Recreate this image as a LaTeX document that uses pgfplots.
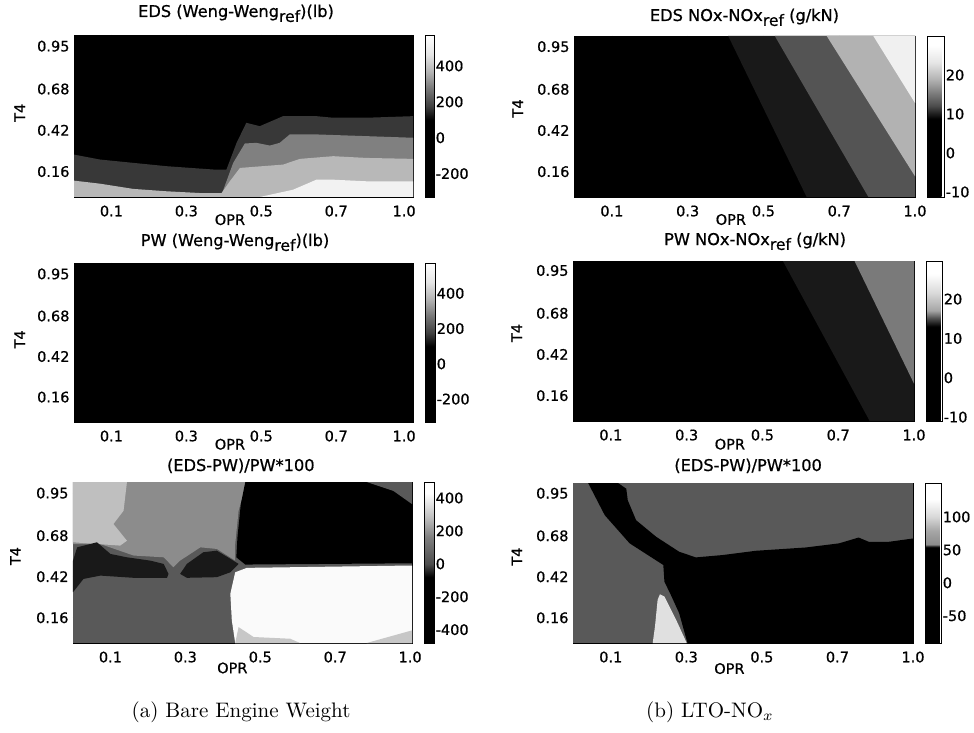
\documentclass[border=0pt]{standalone}
\usepackage{fontspec}
\usepackage{pgfplots}
\pgfplotsset{compat=1.18}
\newfontfamily\djv{DejaVu Sans}
\newfontfamily\djb[FakeBold=0.7]{DejaVu Sans}
\newcommand{\tfnt}{\djb\fontsize{16.2}{17}\selectfont}
\newcommand{\lfnt}{\djb\fontsize{14.5}{15}\selectfont}
\newcommand{\reff}{\raisebox{-0.55ex}{\fontsize{15.6}{16}\selectfont ref}}
\pgfplotsset{
 colormap={cA}{gray(0pt)=(0); gray(476pt)=(0); gray(560pt)=(0.25); gray(660pt)=(0.45); gray(770pt)=(0.7); gray(880pt)=(0.9); gray(1000pt)=(1)},
 colormap={cB}{gray(0pt)=(0); gray(410pt)=(0); gray(490pt)=(0.3); gray(660pt)=(0.5); gray(780pt)=(0.75); gray(930pt)=(1); gray(1000pt)=(1)},
 colormap={cC}{gray(0pt)=(0); gray(485pt)=(0); gray(567pt)=(0.3); gray(650pt)=(0.5); gray(730pt)=(0.7); gray(835pt)=(0.9); gray(940pt)=(1); gray(1000pt)=(1)},
 colormap={cD}{gray(0pt)=(0); gray(590pt)=(0); gray(640pt)=(0.3); gray(690pt)=(0.65); gray(800pt)=(0.85); gray(920pt)=(1); gray(1000pt)=(1)},
 colormap={cE}{gray(0pt)=(0); gray(600pt)=(0); gray(616pt)=(0.55); gray(700pt)=(0.65); gray(790pt)=(0.85); gray(900pt)=(1); gray(1000pt)=(1)},
 panel/.style={
  anchor=south west, scale only axis, xmin=0, xmax=0.905, ymin=0, ymax=1.02,
  xtick={0.1,0.3,0.5,0.7,0.9}, ytick={0.16,0.42,0.68,0.95},
  yticklabels={0.16,0.42,0.68,0.95},
  xticklabels={0.1,0.3,0.5,0.7,1.0},
  axis line style={black,line width=0.6pt},
  tick style={black,line width=0.5pt}, major tick length=2pt,
  tick align=inside,
  ticklabel style={font=\lfnt},
  xticklabel style={yshift=-5pt},
  yticklabel style={xshift=-1pt},
  xlabel={OPR}, ylabel={T4},
  label style={font=\lfnt},
  colorbar,
  clip=true,
 },
 cb/.style 2 args={colorbar style={
   at={(1.036,0)}, anchor=south west, width=#1,
   ytick={#2}, yticklabels={#2}, 
   axis line style={black,line width=0.6pt},
   major tick length=0pt,
   yticklabel style={font=\lfnt,xshift=-2pt},
 }},
 band/.style={fill=#1,draw=none,no marks,forget plot},
}
\begin{document}
\begin{tikzpicture}[x=1pt,y=1pt]
\path[use as bounding box] (0,0) rectangle (974,732);

% ---- Left 1
\begin{axis}[panel, at={(74pt,535pt)}, width=339pt, height=162pt,
  point meta min=-330, point meta max=572, colormap name=cA, cb={9pt}{-200,0,200,400},
  title={EDS (Weng-Weng\reff)(lb)},
  title style={at={(axis description cs:0.478,1)},anchor=base,yshift=12pt,font=\tfnt},
  xlabel style={at={(axis description cs:0.46,-0.14)},anchor=center},
  ylabel style={at={(axis description cs:-0.16,0.52)},anchor=center},
  xticklabels={0.1,0.3,0.5,0.7,\hspace*{-14pt}1.0}]
\addplot[band=black] coordinates {(0,0)(0.905,0)(0.905,1.02)(0,1.02)};
\addplot[band=black!78] coordinates {(0,.267)(.069,.236)(.158,.215)(.247,.194)(.372,.173)(.407,.173)(.434,.341)(.460,.467)(.496,.446)(.558,.509)(.647,.509)(.692,.499)(.780,.499)(.905,.509)(.905,0)(0,0)};
\addplot[band=black!50] coordinates {(.394,.015)(.425,.215)(.456,.337)(.487,.341)(.523,.324)(.549,.341)(.576,.394)(.647,.394)(.905,.373)(.905,0)(.394,0)};
\addplot[band=black!28] coordinates {(0,.103)(.069,.084)(.158,.051)(.247,.036)(.336,.025)(.394,.025)(.416,.099)(.443,.183)(.558,.204)(.603,.240)(.692,.257)(.780,.246)(.905,.240)(.905,0)(0,0)};
\addplot[band=black!5] coordinates {(.496,0)(.585,.046)(.647,.109)(.692,.109)(.780,.099)(.905,.099)(.905,0)};
\end{axis}

% ---- Left 2
\begin{axis}[panel, at={(74pt,310pt)}, width=339pt, height=159pt,
  point meta min=-330, point meta max=572, colormap name=cA, cb={10pt}{-200,0,200,400},
  title={PW (Weng-Weng\reff)(lb)},
  title style={at={(axis description cs:0.475,1)},anchor=base,yshift=11pt,font=\tfnt},
  xlabel style={at={(axis description cs:0.46,-0.14)},anchor=center},
  ylabel style={at={(axis description cs:-0.16,0.52)},anchor=center},
  xticklabels={0.1,0.3,0.5,0.7,\hspace*{-14pt}1.0}]
\addplot[band=black] coordinates {(0,0)(0.905,0)(0.905,1.02)(0,1.02)};
\end{axis}

% ---- Left 3
\begin{axis}[panel, at={(73pt,89pt)}, width=339pt, height=161pt,
  point meta min=-481, point meta max=497, colormap name=cB, cb={10pt}{-400,-200,0,200,400},
  title={(EDS-PW)/PW*100},
  title style={at={(axis description cs:0.495,1)},anchor=base,yshift=5pt,font=\tfnt},
  xlabel style={at={(axis description cs:0.47,-0.155)},anchor=center},
  ylabel style={at={(axis description cs:-0.17,0.54)},anchor=center}]
\addplot[band=black!65] coordinates {(0,0)(0.905,0)(0.905,1.02)(0,1.02)};
\addplot[band=black!45] coordinates {(0,1.02)(.464,1.02)(.442,.838)(.433,.627)(.433,.522)(.384,.596)(.340,.606)(.286,.522)(.268,.480)(.242,.543)(.162,.554)(.073,.627)(0,.627)};
\addplot[band=black!25] coordinates {(0,1.02)(.144,1.02)(.135,.838)(.108,.754)(.144,.648)(.126,.617)(0,.638)};
\addplot[band=black!90] coordinates {(0,.322)(0,.522)(.011,.606)(.064,.638)(.100,.564)(.144,.543)(.206,.522)(.242,.501)(.255,.438)(.251,.413)(.162,.413)(.073,.427)(.028,.406)};
\addplot[band=black!90] coordinates {(.286,.438)(.304,.501)(.348,.575)(.384,.585)(.428,.522)(.442,.501)(.420,.448)(.384,.417)(.304,.413)};
\addplot[band=black] coordinates {(.460,1.02)(.448,.880)(.439,.669)(.436,.543)(.460,.497)(.905,.505)(.905,1.02)};
\addplot[band=black!65] coordinates {(.784,1.02)(.855,.964)(.905,.880)(.905,1.02)};
\addplot[band=black!2] coordinates {(.420,.312)(.433,.448)(.464,.476)(.905,.491)(.905,0)(.433,0)(.424,.143)};
\addplot[band=black!22] coordinates {(.442,.101)(.482,.038)(.580,.027)(.606,0)(.433,0)};
\addplot[band=black!22] coordinates {(.784,0)(.905,.080)(.905,0)};
\end{axis}

% ---- Right 1
\begin{axis}[panel, at={(574pt,535pt)}, width=341pt, height=161pt,
  xmax=0.9, ymax=1.017,
  point meta min=-11.3, point meta max=30, colormap name=cC, cb={17pt}{-10,0,10,20},
  title={EDS NOx-NOx\reff\ (g/kN)},
  title style={at={(axis description cs:0.5,1)},anchor=base,yshift=9pt,font=\tfnt},
  xlabel style={at={(axis description cs:0.46,-0.14)},anchor=center},
  ylabel style={at={(axis description cs:-0.165,0.55)},anchor=center}]
\addplot[band=black] coordinates {(0,0)(0.9,0)(0.9,1.017)(0,1.017)};
\addplot[band=black!90] coordinates {(.407,1.017)(.614,0)(.9,0)(.9,1.017)};
\addplot[band=black!67] coordinates {(.530,1.017)(.777,0)(.9,0)(.9,1.017)};
\addplot[band=black!30] coordinates {(.667,1.017)(.900,.131)(.900,1.017)};
\addplot[band=black!6] coordinates {(.790,1.017)(.900,.594)(.900,1.017)};
\end{axis}

% ---- Right 2
\begin{axis}[panel, at={(573pt,311pt)}, width=341pt, height=160pt,
  xmax=0.9, ymax=1.01,
  point meta min=-11, point meta max=29.7, colormap name=cD, cb={16pt}{-10,0,10,20},
  title={PW NOx-NOx\reff\ (g/kN)},
  title style={at={(axis description cs:0.534,1)},anchor=base,yshift=10pt,font=\tfnt},
  xlabel style={at={(axis description cs:0.46,-0.145)},anchor=center},
  ylabel style={at={(axis description cs:-0.165,0.55)},anchor=center}]
\addplot[band=black] coordinates {(0,0)(0.9,0)(0.9,1.01)(0,1.01)};
\addplot[band=black!90] coordinates {(.554,1.01)(.783,0)(.9,0)(.9,1.01)};
\addplot[band=black!52] coordinates {(.743,1.01)(.900,.236)(.900,1.01)};
\end{axis}

% ---- Right 3
\begin{axis}[panel, at={(573pt,89pt)}, width=340pt, height=160pt,
  xmax=0.9, ymax=1.015,
  point meta min=-91.4, point meta max=151.5, colormap name=cE, cb={16pt}{-50,0,50,100},
  title={(EDS-PW)/PW*100},
  title style={at={(axis description cs:0.515,1)},anchor=base,yshift=6pt,font=\tfnt},
  xlabel style={at={(axis description cs:0.46,-0.16)},anchor=center},
  ylabel style={at={(axis description cs:-0.165,0.54)},anchor=center}]
\addplot[band=black!65] coordinates {(0,0)(0.9,0)(0.9,1.015)(0,1.015)};
\addplot[band=black] coordinates {(.040,1.015)(.084,.811)(.150,.632)(.239,.495)(.242,.389)(.259,.305)(.281,.189)(.303,0)(.9,0)(.9,.663)(.836,.642)(.783,.642)(.756,.669)(.704,.632)(.616,.606)(.484,.585)(.396,.558)(.325,.543)(.281,.579)(.220,.674)(.167,.779)(.145,.905)(.141,.979)(.119,1.015)};
\addplot[band=black!12] coordinates {(.230,.309)(.242,.295)(.273,.147)(.301,0)(.211,0)(.217,.105)(.224,.274)};
\end{axis}

\node[anchor=base,scale=2.1,font=\normalsize] at (241,15) {(a) Bare Engine Weight};
\node[anchor=base,scale=2.1,font=\normalsize] at (710,15) {(b) LTO-NO$_x$};
\end{tikzpicture}
\end{document}
